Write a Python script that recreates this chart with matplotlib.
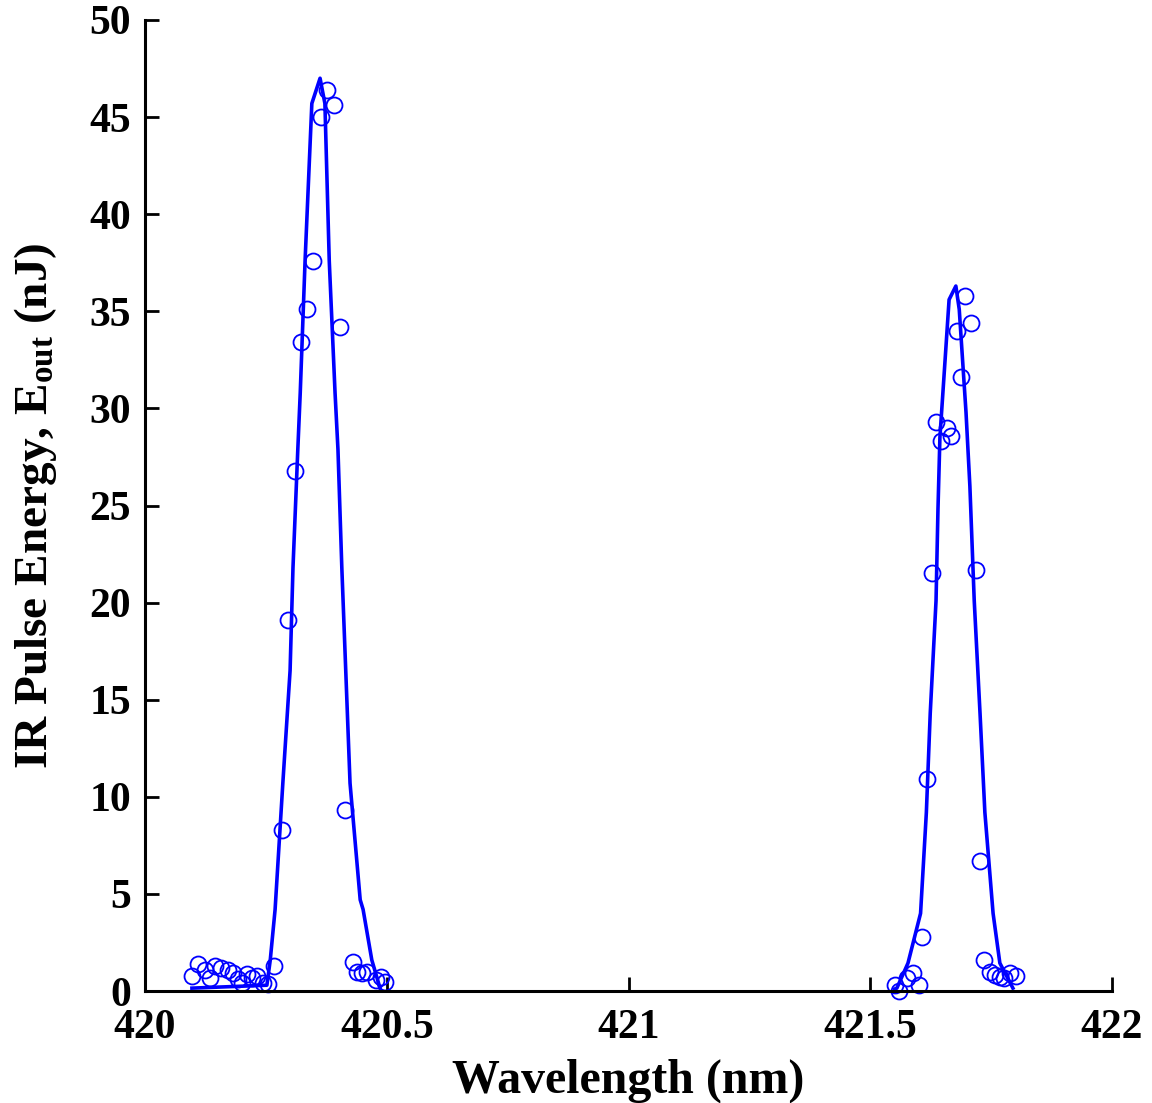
import matplotlib
matplotlib.use("Agg")
import matplotlib.pyplot as plt

plt.rcParams["font.family"] = ["Liberation Serif", "DejaVu Serif"]
plt.rcParams["font.weight"] = "bold"
plt.rcParams["mathtext.fontset"] = "custom"
plt.rcParams["mathtext.rm"] = "Liberation Serif:bold"
plt.rcParams["mathtext.it"] = "Liberation Serif:bold"
plt.rcParams["mathtext.bf"] = "Liberation Serif:bold"

# Measured pulse energies, first line
meas1_wl = [420.097, 420.110, 420.124, 420.134, 420.145, 420.157, 420.172, 420.182,
            420.192, 420.201, 420.211, 420.221, 420.232, 420.244, 420.254, 420.267,
            420.283, 420.296, 420.310, 420.323, 420.335, 420.347, 420.364, 420.376,
            420.391, 420.403, 420.414, 420.430, 420.439, 420.449, 420.459, 420.477,
            420.489, 420.497]
meas1_e = [0.77, 1.39, 1.08, 0.67, 1.29, 1.18, 1.08, 0.93,
           0.62, 0.41, 0.88, 0.67, 0.77, 0.41, 0.36, 1.29,
           8.3, 19.1, 26.8, 33.4, 35.1, 37.6, 45.0, 46.4,
           45.6, 34.2, 9.3, 1.49, 0.98, 0.93, 0.98, 0.57,
           0.72, 0.46]

# Measured pulse energies, second line
meas2_wl = [421.551, 421.559, 421.576, 421.588, 421.601, 421.607, 421.617, 421.628,
            421.636, 421.646, 421.659, 421.667, 421.679, 421.688, 421.696, 421.708,
            421.719, 421.727, 421.735, 421.748, 421.758, 421.768, 421.777, 421.789,
            421.801]
meas2_e = [0.31, 0.0, 0.67, 0.93, 0.31, 2.78, 10.9, 21.5,
           29.3, 28.3, 29.0, 28.6, 34.0, 31.6, 35.8, 34.4,
           21.7, 6.7, 1.6, 0.98, 0.82, 0.72, 0.67, 0.93,
           0.77]

# Fitted profiles
fit1_wl = [420.097, 420.252, 420.259, 420.269, 420.285, 420.300, 420.306, 420.316,
           420.321, 420.331, 420.345, 420.362, 420.372, 420.381, 420.393, 420.399,
           420.407, 420.424, 420.445, 420.451, 420.469, 420.486]
fit1_e = [0.15, 0.3, 1.6, 4.2, 10.7, 16.5, 21.8, 27.9,
          30.8, 37.6, 45.7, 47.0, 45.7, 37.6, 30.8, 27.9,
          21.8, 10.7, 4.7, 4.2, 1.6, 0.15]

fit2_wl = [421.550, 421.555, 421.578, 421.604, 421.616, 421.624, 421.636, 421.640,
           421.644, 421.655, 421.663, 421.677, 421.684, 421.698, 421.706, 421.715,
           421.727, 421.737, 421.754, 421.768, 421.795]
fit2_e = [0.1, 0.15, 1.44, 4.0, 9.2, 14.3, 20.1, 24.8,
          28.5, 32.6, 35.6, 36.3, 35.1, 29.8, 26.0, 20.1,
          14.3, 9.2, 4.0, 1.44, 0.15]

x_ticks = [420, 420.5, 421, 421.5, 422]
x_tick_labels = ["420", "420.5", "421", "421.5", "422"]
y_ticks = [0, 5, 10, 15, 20, 25, 30, 35, 40, 45, 50]

blue = "#0000ff"

fig = plt.figure(figsize=(11.52, 11.03), dpi=100)
ax = fig.add_axes([0.1259, 0.1015, 0.8394, 0.8804])

for wl, e in ((meas1_wl, meas1_e), (meas2_wl, meas2_e)):
    ax.plot(wl, e, linestyle="none", marker="o", markersize=11.5,
            markerfacecolor="none", markeredgecolor=blue, markeredgewidth=1.3,
            clip_on=False)
for wl, e in ((fit1_wl, fit1_e), (fit2_wl, fit2_e)):
    ax.plot(wl, e, color=blue, linewidth=2.6, clip_on=False)

ax.set_xlim(420, 422)
ax.set_ylim(0, 50)
ax.set_xticks(x_ticks)
ax.set_xticklabels(x_tick_labels)
ax.set_yticks(y_ticks)

for side in ("top", "right"):
    ax.spines[side].set_visible(False)
for side in ("left", "bottom"):
    ax.spines[side].set_linewidth(2.2)

ax.tick_params(direction="in", length=10, width=2.0, labelsize=30)
ax.tick_params(axis="y", pad=10)
ax.tick_params(axis="x", pad=13)
for lbl in ax.get_xticklabels() + ax.get_yticklabels():
    lbl.set_fontweight("bold")

ax.set_xlabel("Wavelength (nm)", fontsize=34.5, fontweight="bold", labelpad=8)
ax.set_ylabel(r"IR Pulse Energy, E$_{\mathrm{out}}$ (nJ)", fontsize=34,
              fontweight="bold", labelpad=22)

fig.savefig("out.png", dpi=100, facecolor="white")
